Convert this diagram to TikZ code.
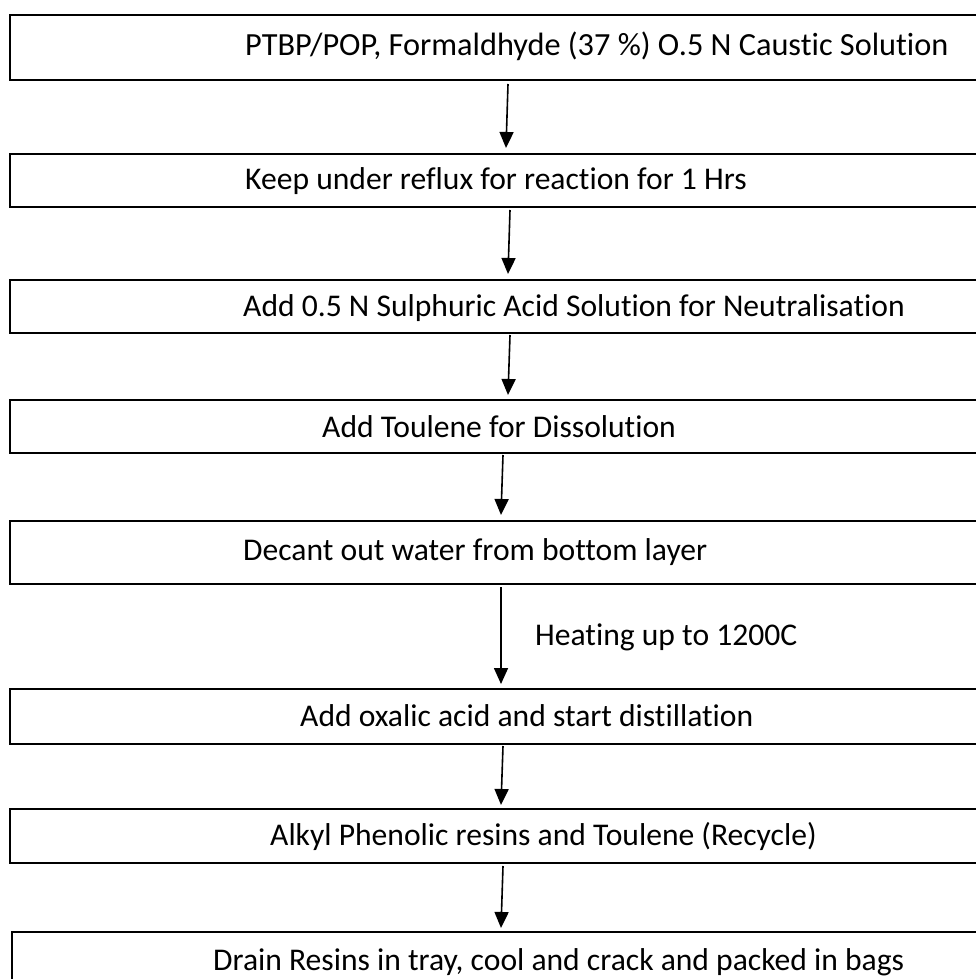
\documentclass[tikz,border=0pt]{standalone}
\usepackage{fontspec}
\setmainfont{Carlito}[Ligatures={NoCommon}]
\usetikzlibrary{arrows.meta}
\begin{document}
\begin{tikzpicture}[x=1pt,y=-1pt,
  stepbox/.style={draw=black, line width=1.8pt, anchor=north west, inner sep=0pt, minimum width=990pt},
  lbl/.style={anchor=west, inner sep=0pt, font=\fontsize{31.6}{38}\selectfont},
  arr/.style={line width=1.6pt, -{Triangle[width=14pt,length=16pt]}}]
\useasboundingbox (0,0) rectangle (976,979);
\clip (0,0) rectangle (976,979);
\fill[white] (0,0) rectangle (976,979);
\node[stepbox, minimum height=65pt] (b1) at (9,14) {};
\node[stepbox, minimum height=53pt] (b2) at (9,153) {};
\node[stepbox, minimum height=53pt] (b3) at (9,279) {};
\node[stepbox, minimum height=53pt] (b4) at (9,399) {};
\node[stepbox, minimum height=63pt] (b5) at (9,520) {};
\node[stepbox, minimum height=55pt] (b6) at (9,688) {};
\node[stepbox, minimum height=54pt] (b7) at (9,808) {};
\node[stepbox, minimum height=80pt] (b8) at (11,931) {};
\node[lbl, font=\fontsize{32.3}{38}\selectfont] (t1) at (245,46) {PTBP/POP, Formaldhyde (37 \%) O.5 N Caustic Solution};
\node[lbl] (t2) at (245,181) {Keep under reflux for reaction for 1 Hrs};
\node[lbl] (t3) at (243,308) {Add 0.5 N Sulphuric Acid Solution for Neutralisation};
\node[lbl] (t4) at (322,427) {Add Toulene for Dissolution};
\node[lbl] (t5) at (243,552) {Decant out water from bottom layer};
\node[lbl] (h) at (535,637) {Heating up to 1200C};
\node[lbl] (t6) at (300,716) {Add oxalic acid and start distillation};
\node[lbl] (t7) at (270,836) {Alkyl Phenolic resins and Toulene (Recycle)};
\node[lbl] (t8) at (213,962) {Drain Resins in tray, cool and crack and packed in bags};
\coordinate (a1s) at (508,84);  \coordinate (a1e) at (506,148);
\coordinate (a2s) at (510,210); \coordinate (a2e) at (508,274);
\coordinate (a3s) at (510,335); \coordinate (a3e) at (508,395);
\coordinate (a4s) at (503,455); \coordinate (a4e) at (501,515);
\coordinate (a5s) at (501,587); \coordinate (a5e) at (501,684);
\coordinate (a6s) at (503,746); \coordinate (a6e) at (501,805);
\coordinate (a7s) at (503,866); \coordinate (a7e) at (501,928);
\draw[arr] (a1s) -- (a1e);
\draw[arr] (a2s) -- (a2e);
\draw[arr] (a3s) -- (a3e);
\draw[arr] (a4s) -- (a4e);
\draw[arr] (a5s) -- (a5e);
\draw[arr] (a6s) -- (a6e);
\draw[arr] (a7s) -- (a7e);
\end{tikzpicture}
\end{document}
